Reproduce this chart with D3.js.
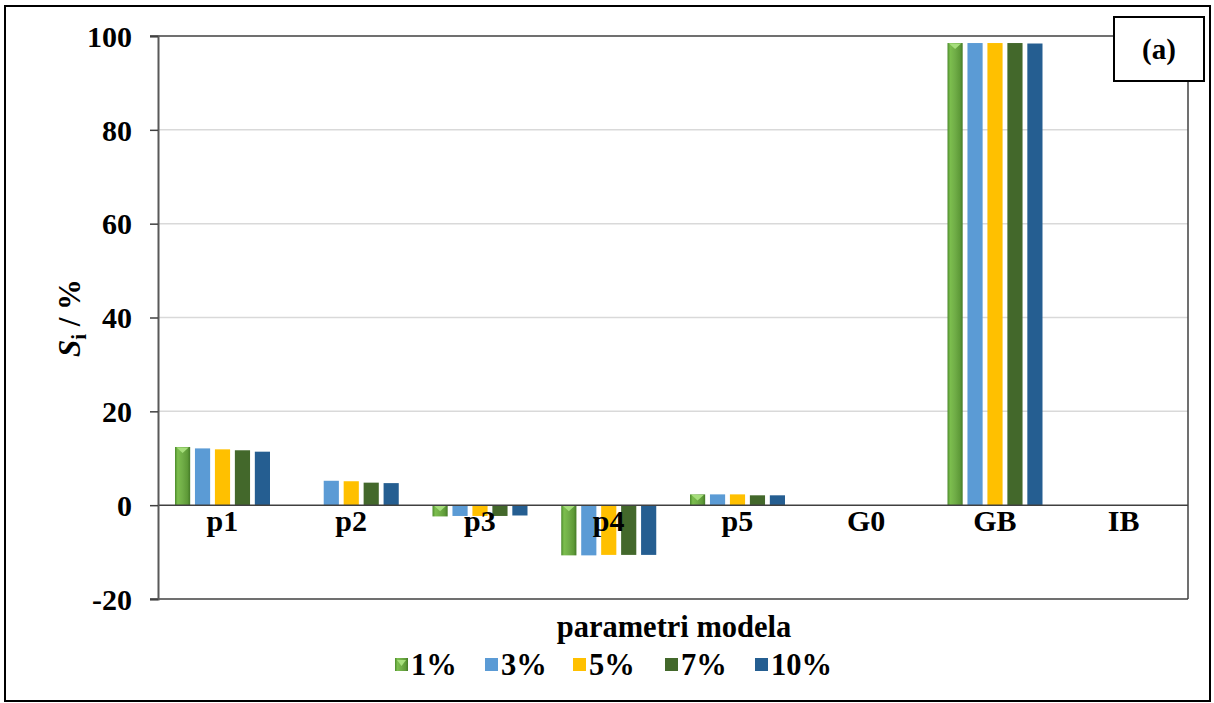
<!DOCTYPE html>
<html>
<head>
<meta charset="utf-8">
<script src="https://cdn.jsdelivr.net/npm/d3@7"></script>
<style>
  html, body { margin: 0; padding: 0; background: #fff; }
</style>
</head>
<body>
<svg id="chart" width="1214" height="703"></svg>
<script>
// ---- data ----
const categories = ["p1", "p2", "p3", "p4", "p5", "G0", "GB", "IB"];
const seriesNames = ["1%", "3%", "5%", "7%", "10%"];
const s1  = [12.4, null, -2.4, -10.7, 2.3, 0, 98.5, 0];
const s3  = [12.1, 5.2, -2.3, -10.7, 2.3, 0, 98.5, 0];
const s5  = [11.9, 5.1, -2.3, -10.6, 2.3, 0, 98.5, 0];
const s7  = [11.7, 4.8, -2.3, -10.6, 2.1, 0, 98.5, 0];
const s10 = [11.4, 4.7, -2.2, -10.6, 2.1, 0, 98.4, 0];
const seriesValues = [s1, s3, s5, s7, s10];
const yTicks = [-20, 0, 20, 40, 60, 80, 100];
const colors = ["url(#g1)", "#5B9BD5", "#FFC000", "#43682B", "#255E91"];

const FONT = "'Liberation Serif', Tinos, 'Times New Roman', Times, 'DejaVu Serif', serif";

const svg = d3.select("#chart");
const defs = svg.append("defs");
const grad = defs.append("linearGradient").attr("id", "g1").attr("x1", "0%").attr("x2", "100%").attr("y1", "0%").attr("y2", "0%");
[["0%", "#4B8A2B"], ["18%", "#7CBE4E"], ["50%", "#70AD47"], ["82%", "#5E9A38"], ["100%", "#447A27"]].forEach(([o, c]) =>
  grad.append("stop").attr("offset", o).attr("stop-color", c));

function txt(sel) {
  return sel.attr("font-family", FONT).attr("font-weight", "bold").attr("fill", "#000");
}

// outer frame
svg.append("rect").attr("x", 5).attr("y", 6).attr("width", 1205).attr("height", 695)
  .attr("fill", "none").attr("stroke", "#000").attr("stroke-width", 2);

const plotL = 158, plotR = 1188, plotT = 36, plotB = 599;
const y = d3.scaleLinear().domain([-20, 100]).range([plotB, plotT]);
const x0 = d3.scaleBand().domain(categories).range([plotL, plotR]).padding(0);
const x1 = d3.scaleBand().domain(seriesNames).range([17, 112]).paddingInner(0.24).paddingOuter(0);

// gridlines
svg.append("g").selectAll("line").data(yTicks.filter(t => t > -20 && t < 100 && t !== 0)).join("line")
  .attr("x1", plotL).attr("x2", plotR).attr("y1", d => y(d)).attr("y2", d => y(d))
  .attr("stroke", "#d9d9d9").attr("stroke-width", 1.5);

// bars
const bars = svg.append("g");
seriesValues.forEach((vals, si) => {
  const g = bars.append("g");
  const data = categories.map((c, i) => ({ c, v: vals[i] })).filter(d => d.v !== null && d.v !== 0);
  g.selectAll("rect").data(data).join("rect")
    .attr("x", d => x0(d.c) + x1(seriesNames[si]))
    .attr("width", x1.bandwidth())
    .attr("y", d => y(Math.max(0, d.v)))
    .attr("height", d => Math.abs(y(d.v) - y(0)))
    .attr("fill", colors[si]);
  if (si === 0) {
    g.selectAll("path").data(data).join("path")
      .attr("d", d => {
        const bx = x0(d.c) + x1(seriesNames[si]);
        const w = x1.bandwidth();
        const ty = y(Math.max(0, d.v));
        return `M${bx + 1.5},${ty + 0.5}L${bx + w - 1.5},${ty + 0.5}L${bx + w / 2},${ty + 6}Z`;
      })
      .attr("fill", "#A6DE7C");
  }
});

// frame lines
svg.append("line").attr("x1", 150).attr("x2", plotR).attr("y1", plotT).attr("y2", plotT).attr("stroke", "#404040").attr("stroke-width", 1.5);
svg.append("line").attr("x1", plotR).attr("x2", plotR).attr("y1", plotT).attr("y2", plotB).attr("stroke", "#404040").attr("stroke-width", 1.5);
svg.append("line").attr("x1", 150).attr("x2", plotR).attr("y1", plotB).attr("y2", plotB).attr("stroke", "#404040").attr("stroke-width", 1.5);
svg.append("line").attr("x1", plotL).attr("x2", plotR).attr("y1", y(0)).attr("y2", y(0)).attr("stroke", "#404040").attr("stroke-width", 1.5);

// y axis
const yAxis = d3.axisLeft(y).tickValues(yTicks).tickSize(8).tickPadding(18).tickFormat(d => String(d));
const ya = svg.append("g").attr("transform", `translate(${plotL},0)`).call(yAxis);
ya.attr("font-family", FONT).attr("font-size", 30);
ya.select(".domain").attr("stroke", "#595959").attr("stroke-width", 2);
ya.selectAll(".tick line").attr("stroke", "#404040").attr("stroke-width", 1.5);
txt(ya.selectAll(".tick text")).attr("font-size", 30).attr("dy", "0.34em");

// category labels
txt(svg.append("g").selectAll("text").data(categories).join("text"))
  .attr("x", d => x0(d) + x0.bandwidth() / 2)
  .attr("y", 531)
  .attr("text-anchor", "middle")
  .attr("font-size", 30)
  .text(d => d);

// y title
const yt = txt(svg.append("text")).attr("transform", "translate(80,318) rotate(-90)").attr("text-anchor", "middle").attr("font-size", 31);
yt.append("tspan").attr("font-style", "italic").text("S");
yt.append("tspan").attr("dy", 6).attr("font-size", 21).text("i");
yt.append("tspan").attr("dy", -6).text(" / %");

// x title
txt(svg.append("text")).attr("x", (plotL + plotR) / 2 + 1).attr("y", 637).attr("text-anchor", "middle")
  .attr("font-size", 30.5).text("parametri modela");

// legend
const legX = [395, 485, 573, 665, 755];
const leg = svg.append("g");
seriesNames.forEach((s, i) => {
  const lx = legX[i], ly = 658;
  leg.append("rect").attr("x", lx).attr("y", ly).attr("width", 13).attr("height", 13).attr("fill", colors[i]);
  if (i === 0) {
    leg.append("path").attr("d", `M${lx + 2},${ly + 2}L${lx + 11},${ly + 2}L${lx + 6.5},${ly + 8}Z`).attr("fill", "#A6DE7C");
  }
  txt(leg.append("text")).attr("x", lx + 16).attr("y", ly + 17).attr("font-size", 30.5).text(s);
});

// (a) box
svg.append("rect").attr("x", 1114).attr("y", 17).attr("width", 90).attr("height", 64)
  .attr("fill", "#fff").attr("stroke", "#000").attr("stroke-width", 2);
txt(svg.append("text")).attr("x", 1159).attr("y", 59).attr("text-anchor", "middle").attr("font-size", 29).text("(a)");
</script>
</body>
</html>
